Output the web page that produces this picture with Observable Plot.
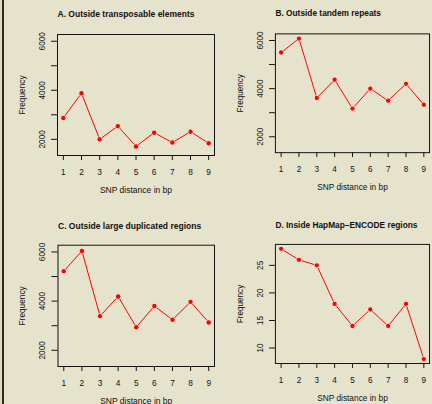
<!DOCTYPE html>
<html>
<head>
<meta charset="utf-8">
<script src="https://cdn.jsdelivr.net/npm/d3@7"></script>
<script src="https://cdn.jsdelivr.net/npm/@observablehq/plot@0.6"></script>
<style>
  html, body { margin: 0; padding: 0; background: #e6e3cd; }
  #root { position: relative; width: 432px; height: 404px; overflow: hidden; background: #e6e3cd; font-family: "Liberation Sans", Arial, sans-serif; }
  #strip { position: absolute; left: 0; top: 0; width: 2px; height: 404px; background: #dedab5; }
  #rule { position: absolute; left: 2px; top: 0; width: 1.5px; height: 404px; background: #2a2a2a; }
  .panel { position: absolute; }
</style>
</head>
<body>
<div id="root"><div id="strip"></div><div id="rule"></div></div>
<script>
// ---- data ----
const distances = [1, 2, 3, 4, 5, 6, 7, 8, 9];
const freqA = [2870, 3880, 2000, 2540, 1710, 2270, 1870, 2310, 1840];
const freqB = [5500, 6080, 3610, 4370, 3170, 4000, 3500, 4200, 3330];
const freqC = [5220, 6040, 3390, 4190, 2940, 3800, 3240, 3970, 3130];
const freqD = [28, 26, 25, 18, 14, 17, 14, 18, 8];
const titles = [
  "A. Outside transposable elements",
  "B. Outside tandem repeats",
  "C. Outside large duplicated regions",
  "D. Inside HapMap\u2013ENCODE regions"
];
const yTicksCounts = [2000, 3000, 4000, 5000, 6000];
const yLabelsCounts = [2000, 4000, 6000];
const yTicksD = [10, 15, 20, 25];
const yLabelsD = [10, 15, 20, 25];
const xLabel = "SNP distance in bp";
const yLabel = "Frequency";

// ---- drawing ----
const FONT = "'Liberation Sans', Arial, sans-serif";
const FS = 8.3;

function panel({title, values, yDomain, yTicks, yLabels, left, top, width, mL, mR, mT, mB, titleDy}) {
  const pts = distances.map((d, i) => ({x: d, y: values[i]}));
  const segs = pts.slice(1).map((p, i) => ({x1: pts[i].x, y1: pts[i].y, x2: p.x, y2: p.y}));
  const chart = Plot.plot({
    width, height: 202,
    marginLeft: mL, marginRight: mR, marginTop: mT, marginBottom: mB,
    x: {domain: [0.68, 9.32]},
    y: {domain: yDomain},
    style: {background: "none", fontFamily: FONT, fontSize: FS + "px", color: "#111", overflow: "visible"},
    marks: [
      Plot.axisX(distances, {anchor: "bottom", tickSize: 5, tickFormat: () => "", label: null, stroke: "#111"}),
      Plot.axisY(yTicks, {anchor: "left", tickSize: 6, tickFormat: () => "", label: null, stroke: "#111"}),
      Plot.text(distances, {x: d => d, text: d => String(d), frameAnchor: "bottom", dy: 16.7, lineAnchor: "middle", fill: "#111", fontSize: FS}),
      Plot.text(yLabels, {y: d => d, text: d => String(d), frameAnchor: "left", dx: -15.5, rotate: -90, textAnchor: "middle", lineAnchor: "middle", fill: "#111", fontSize: FS}),
      Plot.text([xLabel], {frameAnchor: "bottom", dy: 35, lineAnchor: "middle", fill: "#111", fontSize: 8.5}),
      Plot.text([yLabel], {frameAnchor: "left", dx: -35.5, rotate: -90, textAnchor: "middle", lineAnchor: "middle", fill: "#111", fontSize: 8.3}),
      Plot.text([title], {frameAnchor: "top-left", dy: titleDy, textAnchor: "start", lineAnchor: "bottom", fontWeight: "bold", fill: "#111", fontSize: 8.5}),
      Plot.frame({stroke: "#111", strokeWidth: 1}),
      Plot.arrow(segs, {x1: "x1", y1: "y1", x2: "x2", y2: "y2", bend: 0, headLength: 0, inset: 3.2, stroke: "#ff0000", strokeWidth: 1}),
      Plot.dot(pts, {x: "x", y: "y", r: 2.2, fill: "#ff0000", stroke: "none"})
    ]
  });
  const div = document.createElement("div");
  div.className = "panel";
  div.style.left = left + "px";
  div.style.top = top + "px";
  div.appendChild(chart);
  document.getElementById("root").appendChild(div);
}

const countDomain = [1340, 6275];
panel({title: titles[0], values: freqA, yDomain: countDomain, yTicks: yTicksCounts, yLabels: yLabelsCounts,
       left: 0, top: 0, width: 216, mL: 57, mR: 2, mT: 34, mB: 47, titleDy: -18});
panel({title: titles[1], values: freqB, yDomain: countDomain, yTicks: yTicksCounts, yLabels: yLabelsCounts,
       left: 216, top: 0, width: 220, mL: 60, mR: 3, mT: 34, mB: 47, titleDy: -18});
panel({title: titles[2], values: freqC, yDomain: countDomain, yTicks: yTicksCounts, yLabels: yLabelsCounts,
       left: 0, top: 202, width: 216, mL: 57.5, mR: 2, mT: 42.7, mB: 38, titleDy: -16.5});
panel({title: titles[3], values: freqD, yDomain: [7.2, 28.8], yTicks: yTicksD, yLabels: yLabelsD,
       left: 216, top: 202, width: 220, mL: 60, mR: 3, mT: 42.7, mB: 38, titleDy: -16.5});
</script>
</body>
</html>
